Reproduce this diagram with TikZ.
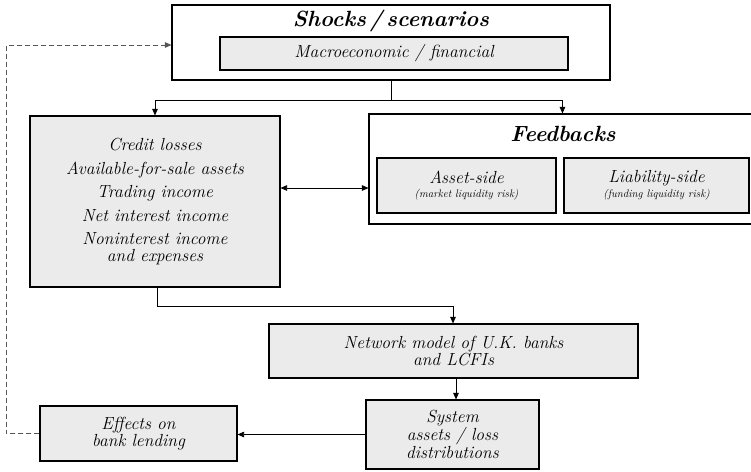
\documentclass[tikz,border=0pt]{standalone}
\usepackage{fontspec}
\usetikzlibrary{arrows.meta,calc}
\definecolor{boxgray}{HTML}{EBEBEB}
\definecolor{dashgray}{HTML}{555555}
\begin{document}
\begin{tikzpicture}[x=1pt,y=-1pt,
  outer/.style={draw=black,line width=1.1pt,fill=white,inner sep=0pt},
  graybox/.style={draw=black,line width=1.1pt,fill=boxgray,inner sep=0pt,align=center,
     font=\fontsize{17.5}{16.5}\selectfont\itshape},
  ttl/.style={font=\fontsize{22}{24}\selectfont\bfseries\itshape,inner sep=0pt},
  conn/.style={line width=0.8pt,-{Triangle[length=6.5pt,width=5.5pt]}},
  plain/.style={line width=0.8pt}]
\useasboundingbox (0,0) rectangle (751,471);
\begin{scope}
\clip (0,0) rectangle (751,471);
% Shocks
\node[outer,minimum width=438pt,minimum height=75pt] (shocks) at (391,42.5) {};
\node[ttl] (shockst) at (391,21) {Shocks\,/\,scenarios};
\node[graybox,minimum width=348pt,minimum height=33pt] (macro) at (394,53.5) {Macroeconomic / financial};
% Losses box
\node[graybox,minimum width=250pt,minimum height=171pt] (losses) at (155,201.5)
 {Credit losses\\[7pt] Available-for-sale assets\\[7pt] Trading income\\[7pt] Net interest income\\[7pt] Noninterest income\\ and expenses};
% Feedbacks
\node[outer,minimum width=390pt,minimum height=110pt] (feed) at (564,169) {};
\node[ttl] (feedt) at (563,134) {Feedbacks};
\node[graybox,minimum width=179pt,minimum height=55pt] (asset) at (466.5,185.5)
 {Asset-side\\[-2pt] {\fontsize{11}{12}\selectfont (market liquidity risk)}};
\node[graybox,minimum width=185pt,minimum height=55pt] (liab) at (656.5,185.5)
 {Liability-side\\[-2pt] {\fontsize{11}{12}\selectfont (funding liquidity risk)}};
% Network
\node[graybox,minimum width=369pt,minimum height=54pt] (network) at (453.5,351)
 {Network model of U.K. banks\\[1pt] and LCFIs};
% System
\node[graybox,minimum width=173pt,minimum height=69pt] (system) at (452.5,434.5)
 {System\\ assets / loss\\ distributions};
% Effects
\node[graybox,minimum width=197pt,minimum height=55pt] (effects) at (138.5,433.5)
 {Effects on\\ bank lending};
\end{scope}
% connectors
\draw[plain] (shocks.south) -- ++(0,20) coordinate (j1);
\draw[conn] (j1) -| (losses.north);
\draw[conn] (j1) -| ($(feed.north west)+(194,0)$);
\draw[line width=0.8pt,{Triangle[length=6.5pt,width=5.5pt]}-{Triangle[length=6.5pt,width=5.5pt]}]
  ([yshift=13.5pt]losses.east) -- ([yshift=13.5pt]losses.east -| feed.west);
\draw[plain] ([xshift=2pt]losses.south) -- ++(0,19) coordinate (j2);
\draw[conn] (j2) -| ([xshift=-0.5pt]network.north);
\draw[conn] ([xshift=2.5pt]network.south) -- ([xshift=3.5pt]system.north);
\draw[conn] (system.west) -- (system.west -| effects.east);
\draw[line width=0.8pt,dashgray,dash pattern=on 5pt off 3pt,-{Triangle[length=6.5pt,width=5.5pt]}]
  (effects.west) -- ++(-33,0) coordinate (d1) |- ([yshift=-2.5pt]shocks.west);
\end{tikzpicture}
\end{document}
